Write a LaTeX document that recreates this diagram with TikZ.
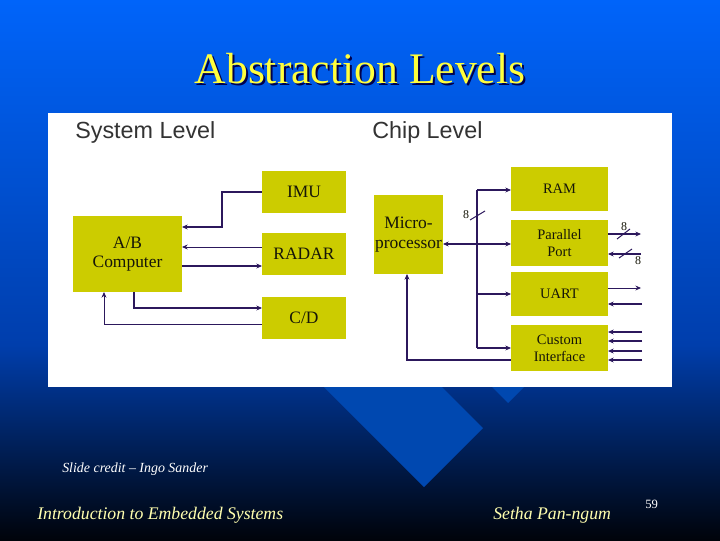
\documentclass[tikz,border=0pt]{standalone}
\usepackage{fontspec}
\setmainfont{Liberation Serif}
\setsansfont{Liberation Sans}
\usepackage{tikz}
\usetikzlibrary{arrows.meta, positioning}
\definecolor{slidetop}{RGB}{0,100,250}
\definecolor{slidemid}{RGB}{0,62,172}
\definecolor{slidebot}{RGB}{0,3,10}
\definecolor{slabblue}{RGB}{0,72,176}
\definecolor{olivebox}{RGB}{204,204,0}
\definecolor{boxink}{RGB}{22,22,8}
\definecolor{wireink}{RGB}{44,24,92}
\definecolor{titleyellow}{RGB}{255,255,60}
\definecolor{footyellow}{RGB}{255,255,175}

\begin{document}
\begin{tikzpicture}[
  x=0.025cm, y=-0.025cm,
  box/.style={rectangle, fill=olivebox, inner sep=0pt, outer sep=0pt,
              align=center, text=boxink, font=\fontsize{12.4}{14}\selectfont},
  sysbox/.style={box, minimum width=2.1cm, minimum height=1.05cm},
  chipbox/.style={box, minimum width=2.425cm, font=\fontsize{10.3}{12}\selectfont},
  heading/.style={anchor=base west, inner sep=0pt, text=black!80,
                  font=\sffamily\fontsize{16.6}{18}\selectfont},
  footer/.style={anchor=base west, inner sep=0pt, text=footyellow,
                 font=\itshape\fontsize{12.6}{14}\selectfont},
  bits/.style={inner sep=0pt, text=boxink, font=\fontsize{8.5}{9}\selectfont},
  wire/.style={draw=wireink, line width=0.7pt},
  thickwire/.style={draw=wireink, line width=1.7pt},
  arrow/.style={-{Stealth[length=4pt, width=3.5pt]}},
]
  \shade[top color=slidetop, bottom color=slidemid] (0,0) rectangle (720,345);
  \shade[top color=slidemid, bottom color=slidebot] (0,345) rectangle (720,540);
  \fill[slabblue] (324,387) -- (424,487) -- (483,428) -- (383,328) -- cycle;
  \fill[slabblue] (490,385) -- (508,403) -- (526,385) -- (508,367) -- cycle;
  \fill[white] (48,113) rectangle (672,387);

  \node[anchor=base, inner sep=0pt, text=black!70!blue, font=\fontsize{31}{34}\selectfont]
    (titleshade) at (362,85) {Abstraction Levels};
  \node[anchor=base, inner sep=0pt, text=titleyellow, font=\fontsize{31}{34}\selectfont]
    (title) at (360,83) {Abstraction Levels};

  \node[heading] (syslevel)  at (75,138)  {System Level};
  \node[heading] (chiplevel) at (372,138) {Chip Level};

  \node[box, minimum width=2.725cm, minimum height=1.9cm] (ab) at (127.5,254) {A/B\\Computer};
  \node[sysbox] (imu)   at (304,192) {IMU};
  \node[sysbox] (radar) at (304,254) {RADAR};
  \node[sysbox] (cd)    at (304,318) {C/D};

  \draw[thickwire, arrow] (imu.west) -- ++(-40,0) |- (ab.east |- 0,227);
  \draw[wire, arrow] (radar.west |- 0,247) -- (ab.east |- 0,247);
  \draw[thickwire, arrow] (ab.east |- 0,266) -- (radar.west |- 0,266);
  \draw[thickwire, arrow] (ab.south -| 134,0) |- (cd.west |- 0,308);
  \draw[wire, arrow] (cd.west |- 0,324) -| (ab.south -| 104,0);

  \node[box, minimum width=1.725cm, minimum height=1.975cm] (micro) at (408.5,234.5) {Micro-\\processor};
  \node[chipbox, minimum height=1.1cm]  (ram)    at (559.5,189) {RAM};
  \node[chipbox, minimum height=1.15cm] (pport)  at (559.5,243) {Parallel\\Port};
  \node[chipbox, minimum height=1.1cm]  (uart)   at (559.5,294) {UART};
  \node[chipbox, minimum height=1.15cm] (custom) at (559.5,348) {Custom\\Interface};

  \coordinate (bustop) at (477,190);
  \coordinate (busbot) at (477,348);
  \draw[thickwire] (bustop) -- (busbot);
  \draw[thickwire, arrow] (bustop) -- (ram.west |- bustop);
  \draw[thickwire, arrow] (uart.west -| bustop) -- (uart.west);
  \draw[thickwire, arrow] (busbot) -- (custom.west |- busbot);
  \draw[wire, line width=1.2pt, {Stealth[length=4pt, width=3.5pt]}-{Stealth[length=4pt, width=3.5pt]}]
    (micro.east |- 0,244) -- (pport.west |- 0,244);
  \draw[wire] (470,220) -- (485,211);
  \node[bits] (busbits) at (466,215) {8};
  \draw[thickwire, arrow] (custom.west |- 0,360) -| (micro.south -| 407,0);

  \coordinate (ppout) at (641,234);
  \coordinate (ppin)  at (641,254);
  \draw[thickwire, arrow] (pport.east |- ppout) -- (ppout);
  \draw[thickwire, arrow] (ppin) -- (pport.east |- ppin);
  \draw[wire] (617,239) -- (630,229);
  \node[bits] (outbits) at (624,227) {8};
  \draw[wire] (619,258) -- (632,249);
  \node[bits] (inbits) at (638,261) {8};

  \coordinate (uartout) at (641,288);
  \coordinate (uartin)  at (642,304);
  \draw[wire, arrow] (uart.east |- uartout) -- (uartout);
  \draw[thickwire, arrow] (uartin) -- (uart.east |- uartin);
  \foreach \ypos [count=\i] in {332,341,351,360} {
    \coordinate (cin\i) at (642,\ypos);
    \draw[thickwire, arrow] (cin\i) -- (custom.east |- cin\i);
  }

  \node[footer, text=white, font=\itshape\fontsize{9.9}{11}\selectfont] (credit) at (62,472) {Slide credit -- Ingo Sander};
  \node[footer] (course) at (37,519) {Introduction to Embedded Systems};
  \node[footer] (author) at (493,519) {Setha Pan-ngum};
  \node[anchor=base west, inner sep=0pt, text=white, font=\fontsize{9}{10}\selectfont] (pageno) at (645,508) {59};
\end{tikzpicture}
\end{document}
